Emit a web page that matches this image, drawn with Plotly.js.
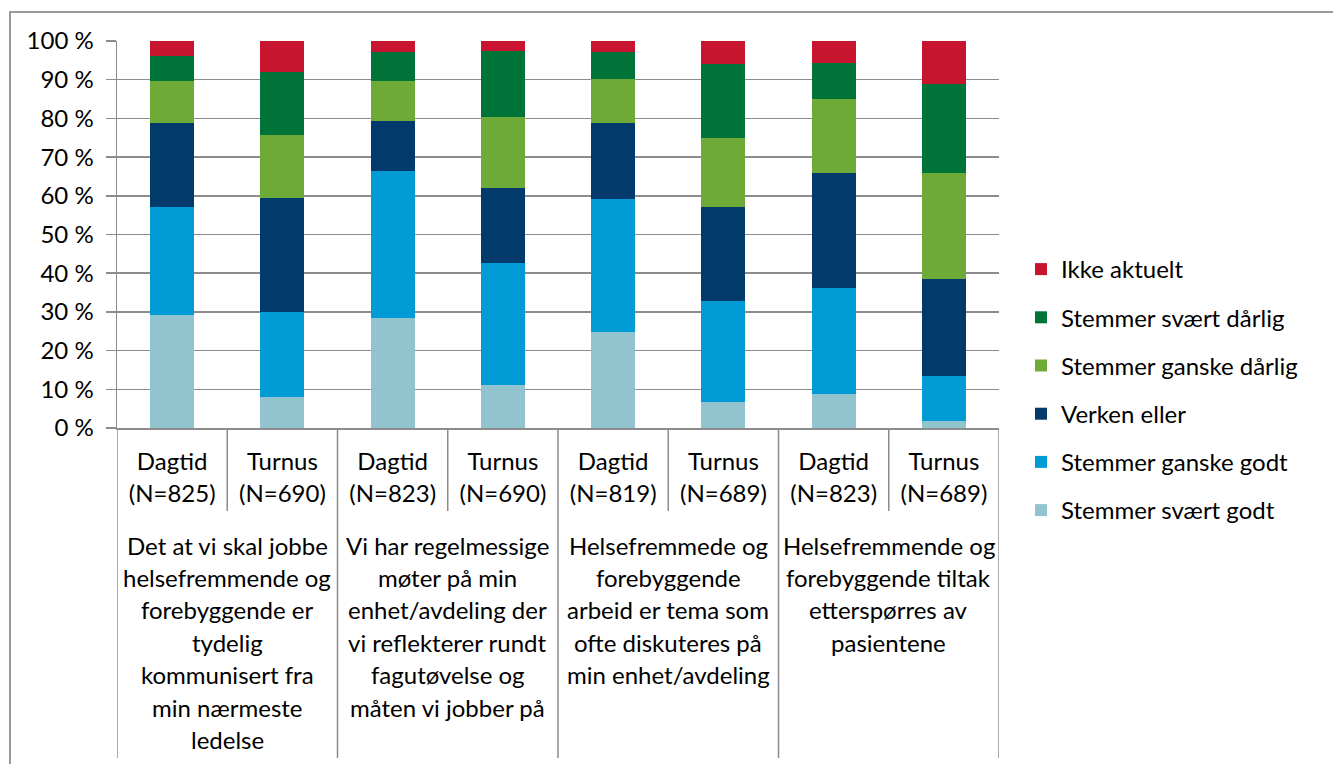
<!DOCTYPE html>
<html>
<head>
<meta charset="utf-8">
<script src="https://cdn.plot.ly/plotly-3.0.1.min.js"></script>
<style>
  html, body { margin: 0; padding: 0; background: #fff; overflow: hidden; }
  #wrap { position: relative; width: 1333px; height: 764px; overflow: hidden; }
  #chart { width: 1333px; height: 764px; }
  #frame { position: absolute; left: 9px; top: 11px; width: 1400px; height: 900px;
           border-left: 2px solid #9A9A9A; border-top: 2px solid #9A9A9A; pointer-events: none; }
</style>
</head>
<body>
<div id="wrap"><div id="chart"></div><div id="frame"></div></div>
<script>
// ---- data ----
const shiftLabels = ['Dagtid', 'Turnus', 'Dagtid', 'Turnus', 'Dagtid', 'Turnus', 'Dagtid', 'Turnus'];
const nLabels = ['(N=825)', '(N=690)', '(N=823)', '(N=690)', '(N=819)', '(N=689)', '(N=823)', '(N=689)'];
const groupLabels = [
  ['Det at vi skal jobbe', 'helsefremmende og', 'forebyggende er', 'tydelig', 'kommunisert fra', 'min nærmeste', 'ledelse'],
  ['Vi har regelmessige', 'møter på min', 'enhet/avdeling der', 'vi reflekterer rundt', 'fagutøvelse og', 'måten vi jobber på'],
  ['Helsefremmede og', 'forebyggende', 'arbeid er tema som', 'ofte diskuteres på', 'min enhet/avdeling'],
  ['Helsefremmende og', 'forebyggende tiltak', 'etterspørres av', 'pasientene']
];
const seriesNames = ['Stemmer svært godt', 'Stemmer ganske godt', 'Verken eller', 'Stemmer ganske dårlig', 'Stemmer svært dårlig', 'Ikke aktuelt'];
const svaertGodt   = [29.2,  7.9, 28.3, 11.2, 24.7,  6.6,  8.9,  1.7];
const ganskeGodt   = [27.8, 22.2, 38.1, 31.5, 34.6, 26.1, 27.2, 11.7];
const verkenEller  = [21.7, 29.3, 13.0, 19.2, 19.6, 24.3, 29.9, 25.1];
const ganskeDarlig = [10.9, 16.3, 10.2, 18.4, 11.4, 17.9, 19.0, 27.5];
const svaertDarlig = [ 6.4, 16.4,  7.6, 17.2,  6.9, 19.2,  9.3, 23.0];
const ikkeAktuelt  = [ 4.0,  7.9,  2.8,  2.5,  2.8,  5.9,  5.7, 11.0];
const seriesColors = ['#92C4CF', '#009BD5', '#013A6B', '#6DAA38', '#007338', '#C8152F'];

// ---- build ----
const seriesValues = [svaertGodt, ganskeGodt, verkenEller, ganskeDarlig, svaertDarlig, ikkeAktuelt];
const xIdx = shiftLabels.map((_, i) => i);
const FONT = 'Lato, "Open Sans", sans-serif';
const GRID = '#8C8C8C';

const traces = seriesValues.map((vals, k) => ({
  type: 'bar',
  name: seriesNames[k],
  x: xIdx,
  y: vals,
  width: 0.4,
  marker: { color: seriesColors[k], line: { width: 0 } },
  legendgroup: 'g' + k,
  legendrank: seriesValues.length - k,
  hoverinfo: 'skip'
}));

const W = 1333, H = 764;
const mL = 117, mR = 334, mT = 41, mB = 336;
const plotH = H - mT - mB;
const plotW = W - mL - mR;
const pxToPaperY = (py) => (H - mB - py) / plotH;
const pxToPaperX = (px) => (px - mL) / plotW;

const shapes = [];
// short dividers between each category, long dividers between groups
for (let i = 0; i <= shiftLabels.length; i++) {
  const isGroup = (i % 2 === 0);
  shapes.push({
    type: 'line', xref: 'x', yref: 'paper',
    x0: i - 0.5, x1: i - 0.5,
    y0: 0, y1: pxToPaperY(isGroup ? 758 : 511),
    line: { color: GRID, width: 1.5 }
  });
}

const annotations = [];
const lineStart = 545, lineStep = 32.4;
groupLabels.forEach((lines, g) => {
  lines.forEach((txt, j) => {
    annotations.push({
      xref: 'x', yref: 'paper',
      x: 2 * g + 0.5, y: pxToPaperY(lineStart + j * lineStep),
      xanchor: 'center', yanchor: 'middle',
      text: txt, showarrow: false,
      font: { family: FONT, size: 24, color: '#000' }
    });
  });
});

const layout = {
  width: W, height: H,
  margin: { l: mL, r: mR, t: mT, b: mB, pad: 0 },
  paper_bgcolor: '#fff', plot_bgcolor: '#fff',
  barmode: 'stack',
  font: { family: FONT, size: 24, color: '#000' },
  showlegend: true,
  legend: {
    x: pxToPaperX(1021), xanchor: 'left',
    y: pxToPaperY(247), yanchor: 'top',
    traceorder: 'grouped',
    tracegroupgap: 14,
    font: { family: FONT, size: 24, color: '#000' },
    bgcolor: 'rgba(0,0,0,0)',
    itemclick: false, itemdoubleclick: false
  },
  xaxis: {
    range: [-0.5, shiftLabels.length - 0.5],
    tickmode: 'array',
    tickvals: xIdx,
    ticktext: shiftLabels.map((s, i) => s + '<br>' + nLabels[i]),
    ticks: '',
    showgrid: false, zeroline: false,
    showline: true, linecolor: GRID, linewidth: 1.5,
    tickfont: { family: FONT, size: 24, color: '#000' },
    ticklabelstandoff: 12,
    fixedrange: true
  },
  yaxis: {
    range: [0, 100],
    tickmode: 'linear', tick0: 0, dtick: 10,
    ticksuffix: ' %',
    ticks: 'outside', ticklen: 10, tickcolor: GRID, tickwidth: 1.5,
    showgrid: true, gridcolor: GRID, gridwidth: 1.5,
    showline: true, linecolor: GRID, linewidth: 1.5,
    zeroline: false,
    tickfont: { family: FONT, size: 24, color: '#000' },
    ticklabelstandoff: 7,
    fixedrange: true
  },
  shapes: shapes,
  annotations: annotations
};

Plotly.newPlot('chart', traces, layout, { staticPlot: true, displayModeBar: false });
</script>
</body>
</html>
